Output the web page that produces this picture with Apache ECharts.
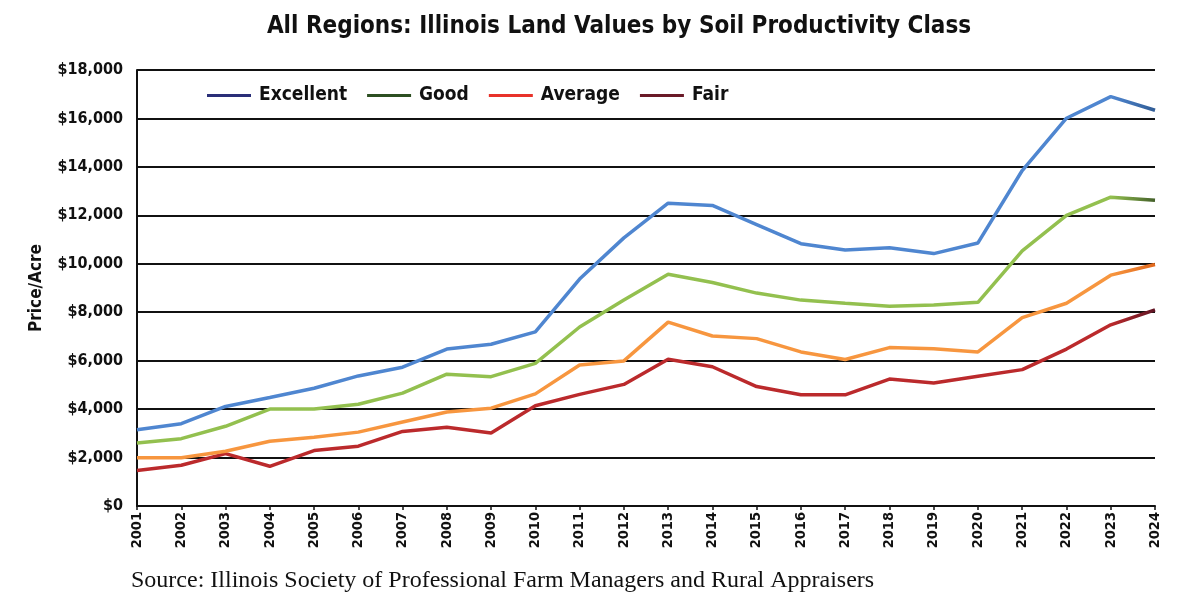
<!DOCTYPE html>
<html>
<head>
<meta charset="utf-8">
<script src="https://cdn.jsdelivr.net/npm/echarts@6/dist/echarts.min.js"></script>
<style>
html,body{margin:0;padding:0;background:#fff;}
#c{width:1197px;height:601px;}
</style>
</head>
<body>
<div id="c"></div>
<script>
const years = ['2001','2002','2003','2004','2005','2006','2007','2008','2009','2010','2011','2012','2013','2014','2015','2016','2017','2018','2019','2020','2021','2022','2023','2024'];
const excellent = [3150,3400,4110,4480,4860,5370,5730,6480,6680,7190,9370,11070,12500,12410,11620,10830,10570,10660,10420,10860,13850,16010,16900,16340];
const good = [2600,2780,3290,4000,4000,4200,4660,5440,5340,5890,7390,8500,9570,9230,8790,8500,8370,8250,8300,8410,10530,12000,12750,12620];
const average = [1990,1990,2260,2670,2840,3050,3470,3880,4040,4630,5820,5990,7590,7020,6910,6360,6050,6540,6490,6360,7780,8370,9530,9970];
const fair = [1470,1680,2160,1640,2290,2470,3080,3250,3010,4140,4610,5020,6060,5750,4930,4590,4590,5240,5080,5360,5630,6480,7480,8100];
const seriesNames = ['Excellent','Good','Average','Fair'];
const yTicks = {min:0, max:18000, interval:2000};

const NARROW = "'Liberation Sans Narrow','DejaVu Sans Condensed',sans-serif";
const lineColors = ['#4f86d0','#93c04f','#f7963f','#bb2a2c'];
const endColors = ['#2f5a92','#3f5a28','#e0651a','#5a1424'];
const legendColors = ['#2a2f78','#2d4f22','#e8322a','#6a1a28'];

function grad(i){
  return new echarts.graphic.LinearGradient(0,0,1,0,[
    {offset:0,color:lineColors[i]},
    {offset:0.955,color:lineColors[i]},
    {offset:1,color:endColors[i]}
  ]);
}
const dataSets = [excellent, good, average, fair];

const chart = echarts.init(document.getElementById('c'));
chart.setOption({
  backgroundColor:'#fff',
  animation:false,
  title:{
    text:'All Regions: Illinois Land Values by Soil Productivity Class',
    left:614, textAlign:'center', top:10,
    textStyle:{fontFamily:NARROW, fontWeight:'bold', fontSize:24, color:'#111'}
  },
  legend:{
    left:202, top:81,
    itemWidth:44, itemHeight:12, itemGap:20,
    textStyle:{fontFamily:NARROW, fontWeight:'bold', fontSize:19, color:'#111', padding:[0,0,0,3]},
    data: seriesNames.map((n,i)=>({name:n, icon:'path://M0,0L44,0L44,3L0,3Z', itemStyle:{color:legendColors[i]}, lineStyle:{color:legendColors[i], width:3}}))
  },
  grid:{left:137, right:42, top:70, bottom:95, containLabel:false},
  xAxis:{
    type:'category', data:years, boundaryGap:false,
    axisLine:{lineStyle:{color:'#111', width:2}},
    axisTick:{show:true, alignWithLabel:true, length:4, lineStyle:{color:'#111', width:1.5}},
    axisLabel:{rotate:90, fontFamily:NARROW, fontWeight:'bold', fontSize:14.5, color:'#111', margin:6, interval:0},
    splitLine:{show:false}
  },
  yAxis:{
    type:'value', min:yTicks.min, max:yTicks.max, interval:yTicks.interval,
    name:'Price/Acre', nameLocation:'middle', nameGap:92, nameRotate:90,
    nameTextStyle:{fontFamily:NARROW, fontWeight:'bold', fontSize:17, color:'#111'},
    axisLine:{show:true, lineStyle:{color:'#111', width:2}},
    axisTick:{show:false},
    axisLabel:{fontFamily:NARROW, fontWeight:'bold', fontSize:16, color:'#111', margin:14,
      formatter:v=>'$'+v.toLocaleString('en-US')},
    splitLine:{lineStyle:{color:'#111', width:2}}
  },
  graphic:[{
    type:'text', left:131, top:569,
    style:{text:'Source: Illinois Society of Professional Farm Managers and Rural Appraisers',
      font:"24px 'Liberation Serif','Times New Roman',serif", fill:'#111'}
  }],
  series: seriesNames.map((n,i)=>({
    name:n, type:'line', data:dataSets[i], symbol:'none', smooth:false,
    itemStyle:{color:legendColors[i]},
    lineStyle:{color:grad(i), width:3.5},
    z:10-i
  }))
});
</script>
</body>
</html>
